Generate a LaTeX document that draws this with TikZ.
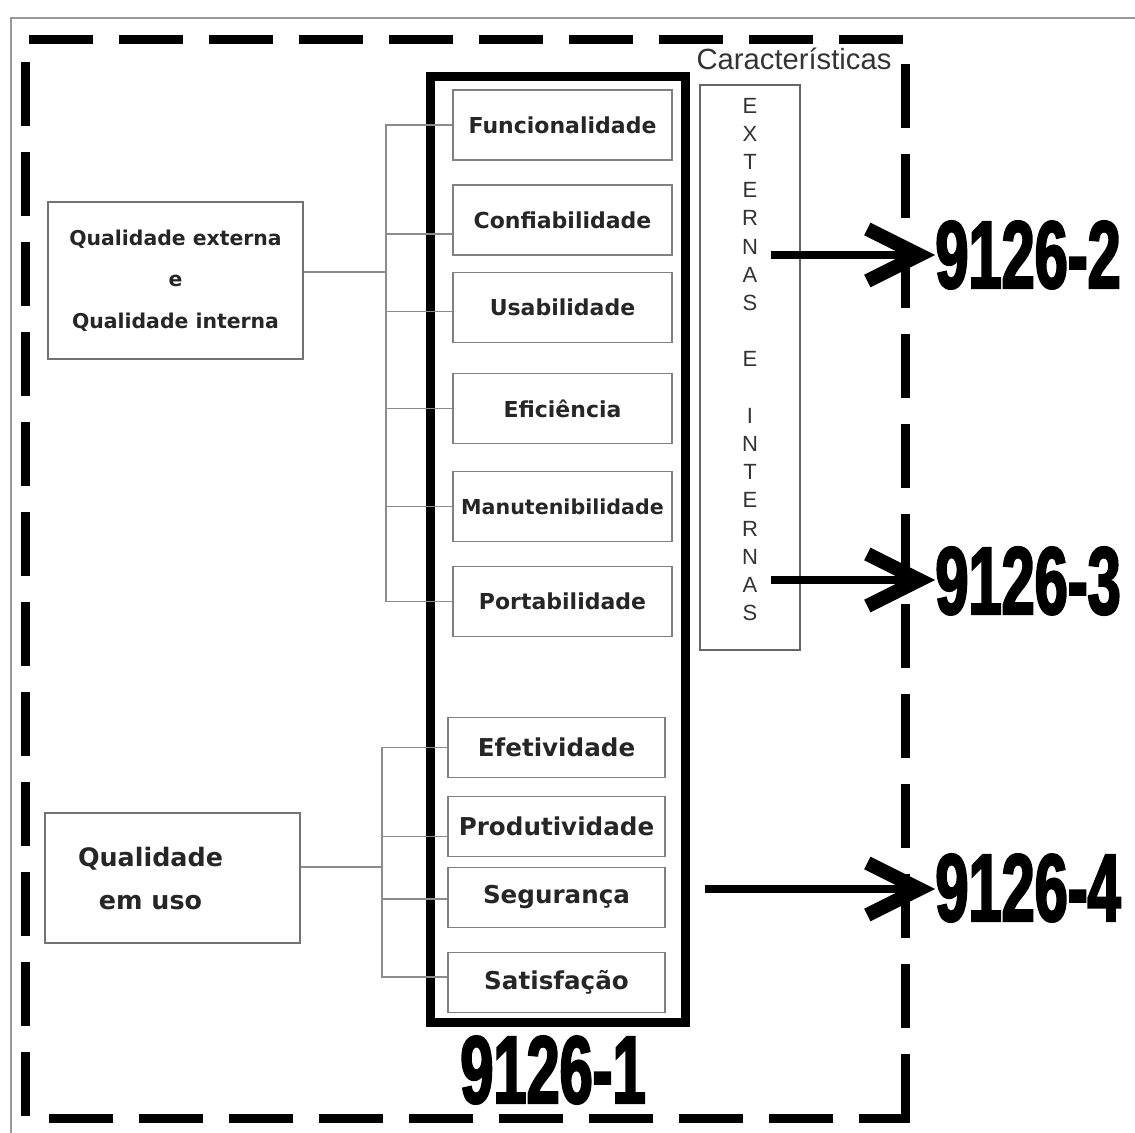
\documentclass[tikz,border=0pt]{standalone}
\usepackage{fontspec}
\setmainfont{DejaVu Sans}
\newfontfamily\arialfont{Liberation Sans}
\newfontfamily\partfont{Liberation Sans}[FakeStretch=0.62,FakeBold=2.2]
\usetikzlibrary{arrows.meta,positioning}

\begin{document}
\begin{tikzpicture}[x=0.5pt,y=-0.5pt,
  caixa/.style={draw=black!50,line width=0.9pt,inner sep=0pt,text=black!85,
                minimum width=109.5pt,minimum height=35pt,
                font=\fontsize{11}{13}\selectfont\bfseries},
  caixauso/.style={caixa,minimum width=108.5pt,minimum height=30pt,
                   font=\fontsize{12.3}{14}\selectfont\bfseries},
  grupo/.style={draw=black!55,line width=1.3pt,inner sep=0pt,minimum width=127.5pt},
  ramo/.style={draw=black!45,line width=0.7pt},
  parte/.style={inner sep=0pt,font=\partfont\bfseries\fontsize{48}{48}\selectfont},
  seta/.style={line width=4pt,-{Straight Barb[length=26pt,width=26pt,line width=7pt]}}]
\useasboundingbox (0,0) rectangle (1135,1133);

% moldura
\draw[black!40,line width=1pt] (11,1133) -- (11,18) -- (1135,18);
\draw[line width=4.5pt,dash pattern=on 32pt off 13pt]
  (905,1100) -- (905,1118) -- (25,1118) -- (25,40) -- (905,40) -- cycle;

% 9126-1
\node[draw,line width=4.5pt,minimum width=127.5pt,minimum height=472.5pt] (iso1) at (557.5,549.5) {};
\node[parte] (n1) at (553,1070) {9126-1};

\node[caixa] (func) at (562.5,125) {Funcionalidade};
\node[caixa] (conf) at (562.5,220) {Confiabilidade};
\node[caixa] (usab) at (562.5,307.5) {Usabilidade};
\node[caixa] (efic) at (562.5,408.5) {Eficiência};
\node[caixa,font=\fontsize{10.3}{12}\selectfont\bfseries] (manu) at (562.5,506.5) {Manutenibilidade};
\node[caixa] (port) at (562.5,601.5) {Portabilidade};

\node[caixauso] (efet) at (556.5,747.5) {Efetividade};
\node[caixauso] (prod) at (556.5,826.5) {Produtividade};
\node[caixauso] (segu) at (556.5,897.5) {Segurança};
\node[caixauso] (sati) at (556.5,982.5) {Satisfação};

% grupos
\node[grupo,minimum height=78.5pt,align=center,text=black!85,
      font=\fontsize{10.2}{20.8}\selectfont\bfseries] (ext) at (175.5,280.5)
  {Qualidade externa\\e\\Qualidade interna};
\node[grupo,minimum height=65pt] (uso) at (172.5,878) {};
\node[align=center,text=black!85,font=\fontsize{12.7}{21.5}\selectfont\bfseries] (usotxt) at (150.5,878.5)
  {Qualidade\\em uso};

\coordinate (tronco1) at (386,272);
\coordinate (tronco2) at (382,867);
\draw[ramo] (ext.east |- tronco1) -- (tronco1);
\foreach \n/\s in {func/0,conf/-7,usab/-2,efic/0,manu/0,port/0}
  \draw[ramo] ([yshift=\s pt]\n.west) -| (tronco1);
\draw[ramo] (uso.east |- tronco2) -- (tronco2);
\foreach \n/\s in {efet/0,prod/-5,segu/-0.75,sati/2.75}
  \draw[ramo] ([yshift=\s pt]\n.west) -| (tronco2);

% caracteristicas
\node[draw=black!60,line width=0.6pt,minimum width=50pt,minimum height=282.5pt] (carac) at (750,367.5) {};
\node[anchor=base,text=black!80,font=\arialfont\fontsize{14.6}{16}\selectfont] (titcarac) at (794,70) {Características};
\node[align=center,inner sep=0pt,text=black!80,font=\arialfont\fontsize{11}{14.1}\selectfont] (letras) at (750,359.5)
  {E\\X\\T\\E\\R\\N\\A\\S\\[14.1pt]E\\[14.1pt]I\\N\\T\\E\\R\\N\\A\\S};

% partes
\node[parte,anchor=west] (iso2) at (935,255) {9126-2};
\node[parte,anchor=west] (iso3) at (935,581) {9126-3};
\node[parte,anchor=west] (iso4) at (935,888) {9126-4};
\coordinate (s2) at (771,255);
\coordinate (s3) at (771,580);
\coordinate (s4) at (705,889);
\draw[seta] (s2) -- (iso2.west |- s2);
\draw[seta] (s3) -- (iso3.west |- s3);
\draw[seta] (s4) -- (iso4.west |- s4);
\end{tikzpicture}
\end{document}
